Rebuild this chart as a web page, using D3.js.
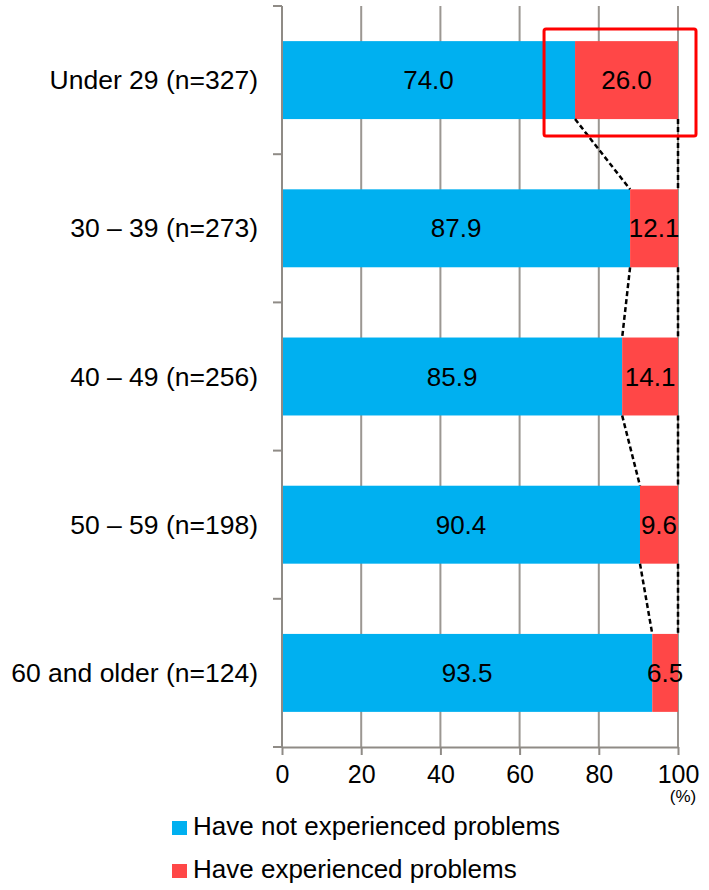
<!DOCTYPE html>
<html>
<head>
<meta charset="utf-8">
<script src="https://cdn.jsdelivr.net/npm/d3@7/dist/d3.min.js"></script>
<style>
  html, body { margin: 0; padding: 0; background: #fff; }
  svg { display: block; font-family: "Liberation Sans", Arial, sans-serif; }
</style>
</head>
<body>
<svg id="chart" width="709" height="890"></svg>
<script>
// Age groups and the share of respondents (%) in each answer
const categories = ["Under 29 (n=327)", "30 \u2013 39 (n=273)", "40 \u2013 49 (n=256)", "50 \u2013 59 (n=198)", "60 and older (n=124)"];
const notExperienced = [74.0, 87.9, 85.9, 90.4, 93.5];
const experienced = [26.0, 12.1, 14.1, 9.6, 6.5];
const seriesNames = ["Have not experienced problems", "Have experienced problems"];
const seriesColors = ["#00B0F0", "#FF4747"];
const xTicks = [0, 20, 40, 60, 80, 100];
const highlightIndex = 0;

const svg = d3.select("#chart");
const plotLeft = 282, plotRight = 678, plotTop = 6, plotBottom = 747;

const x = d3.scaleLinear().domain([0, 100]).range([plotLeft, plotRight]);
const y = d3.scaleBand().domain(categories).range([plotTop, plotBottom]).paddingInner(0.474).paddingOuter(0.237);

// Vertical gridlines
svg.append("g").selectAll("line").data(xTicks.slice(1)).join("line")
  .attr("x1", d => x(d)).attr("x2", d => x(d))
  .attr("y1", plotTop).attr("y2", plotBottom)
  .attr("stroke", "#9b9792").attr("stroke-width", 2);

// Stacked bars
const rows = categories.map((c, i) => ({ c, a: notExperienced[i], b: experienced[i] }));
const bars = svg.append("g");
rows.forEach(r => {
  bars.append("rect").attr("x", x(0)).attr("y", y(r.c))
    .attr("width", x(r.a) - x(0)).attr("height", y.bandwidth()).attr("fill", seriesColors[0]);
  bars.append("rect").attr("x", x(r.a)).attr("y", y(r.c))
    .attr("width", x(r.a + r.b) - x(r.a)).attr("height", y.bandwidth()).attr("fill", seriesColors[1]);
});

// Dashed connector lines between consecutive bars
const conn = svg.append("g").attr("stroke", "#000").attr("stroke-width", 2.5).attr("stroke-dasharray", "5,3").attr("fill", "none");
for (let i = 0; i < rows.length - 1; i++) {
  const y1 = y(rows[i].c) + y.bandwidth();
  const y2 = y(rows[i + 1].c);
  conn.append("line").attr("x1", x(rows[i].a)).attr("y1", y1).attr("x2", x(rows[i + 1].a)).attr("y2", y2);
  conn.append("line").attr("x1", x(100)).attr("y1", y1).attr("x2", x(100)).attr("y2", y2);
}

// Value labels
const labels = svg.append("g").attr("font-size", 26).attr("fill", "#000").attr("text-anchor", "middle");
rows.forEach(r => {
  const cy = y(r.c) + y.bandwidth() / 2 + 9;
  labels.append("text").attr("x", x(r.a / 2)).attr("y", cy).text(r.a.toFixed(1));
  labels.append("text").attr("x", x(r.a + r.b / 2)).attr("y", cy).text(r.b.toFixed(1));
});

// Left axis with ticks at category boundaries
const boundaries = categories.map(c => y(c) - y.step() * y.paddingInner() / 2);
boundaries[0] = plotTop;
boundaries.push(plotBottom);
svg.append("line").attr("x1", plotLeft).attr("x2", plotLeft).attr("y1", plotTop).attr("y2", plotBottom)
  .attr("stroke", "#8f8b86").attr("stroke-width", 2);
svg.append("g").selectAll("line").data(boundaries).join("line")
  .attr("x1", plotLeft - 9).attr("x2", plotLeft).attr("y1", d => d).attr("y2", d => d)
  .attr("stroke", "#8f8b86").attr("stroke-width", 2);

// Category labels
svg.append("g").selectAll("text").data(categories).join("text")
  .attr("x", 258).attr("y", d => y(d) + y.bandwidth() / 2 + 9)
  .attr("text-anchor", "end").attr("font-size", 26.5).attr("fill", "#000").text(d => d);

// Bottom axis
const xAxis = d3.axisBottom(x).tickValues(xTicks).tickSize(8).tickPadding(10).tickSizeOuter(0);
const gx = svg.append("g").attr("transform", `translate(0,${plotBottom})`).call(xAxis);
gx.select(".domain").attr("stroke", "#8f8b86").attr("stroke-width", 2);
gx.selectAll(".tick line").attr("stroke", "#8f8b86").attr("stroke-width", 2);
gx.selectAll(".tick text").attr("font-size", 25).attr("fill", "#000")
  .attr("font-family", "Liberation Sans, Arial, sans-serif");
svg.append("text").attr("x", x(100) + 5).attr("y", 802).attr("text-anchor", "middle")
  .attr("font-size", 17).attr("fill", "#000").text("(%)");

// Highlight frame around the first row's "experienced" segment
const hr = rows[highlightIndex];
svg.append("rect")
  .attr("x", x(hr.a) - 31).attr("y", y(hr.c) - 12)
  .attr("width", x(100) - x(hr.a) + 49).attr("height", y.bandwidth() + 29)
  .attr("rx", 2).attr("fill", "none").attr("stroke", "#FF0000").attr("stroke-width", 3);

// Legend
const legend = svg.append("g");
seriesNames.forEach((name, i) => {
  const ly = 835 + i * 43;
  legend.append("rect").attr("x", 172).attr("y", ly - 14).attr("width", 15).attr("height", 14).attr("fill", seriesColors[i]);
  legend.append("text").attr("x", 193).attr("y", ly).attr("font-size", 26).attr("fill", "#000").text(name);
});
</script>
</body>
</html>
